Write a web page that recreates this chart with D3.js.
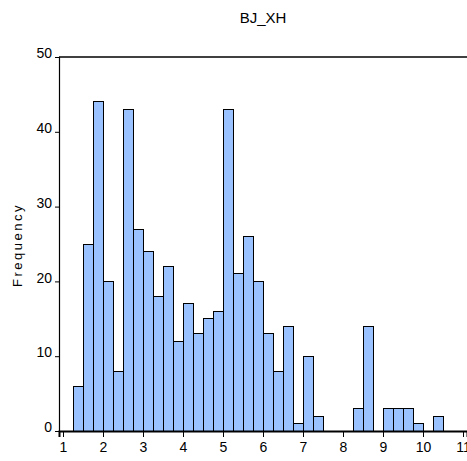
<!DOCTYPE html>
<html>
<head>
<meta charset="utf-8">
<script src="https://cdn.jsdelivr.net/npm/d3@7"></script>
<style>
  html, body { margin: 0; padding: 0; background: #fff; }
  svg { display: block; }
  text { font-family: "Liberation Sans Narrow", "Arial Narrow", "Liberation Sans", sans-serif; fill: #000; }
</style>
</head>
<body>
<svg id="chart" width="467" height="461"></svg>
<script>
// Histogram of BJ_XH, bin width 0.25 starting at 1.25
const binStart = 1.25;
const binWidth = 0.25;
const counts = [6, 25, 44, 20, 8, 43, 27, 24, 18, 22, 12, 17, 13, 15, 16, 43, 21, 26, 20, 13,
                8, 14, 1, 10, 2, 0, 0, 0, 3, 14, 0, 3, 3, 3, 1, 0, 2];
const xTicks = [1, 2, 3, 4, 5, 6, 7, 8, 9, 10, 11];
const yTicks = [0, 10, 20, 30, 40, 50];
const title = "BJ_XH";
const yLabel = "Frequency";

const bins = counts.map((c, i) => ({
  x0: binStart + i * binWidth,
  x1: binStart + (i + 1) * binWidth,
  count: c
}));

const svg = d3.select("#chart");
const W = 467;

const x = d3.scaleLinear().domain([0.9, 11.1]).range([59, 467]);
const y = d3.scaleLinear().domain([0, 50]).range([431, 57]);

// bars
svg.append("g")
  .selectAll("rect")
  .data(bins.filter(d => d.count > 0))
  .join("rect")
  .attr("x", d => x(d.x0))
  .attr("y", d => y(d.count))
  .attr("width", d => x(d.x1) - x(d.x0))
  .attr("height", d => y(0) - y(d.count))
  .attr("fill", "#99c2ff")
  .attr("stroke", "#000")
  .attr("stroke-width", 1)
  .attr("shape-rendering", "crispEdges");

// frame: top line
svg.append("line")
  .attr("x1", 59).attr("x2", W)
  .attr("y1", y(50)).attr("y2", y(50))
  .attr("stroke", "#000").attr("stroke-width", 1.5);

// y axis
const yAxis = d3.axisLeft(y).tickValues(yTicks).tickSize(4).tickPadding(3).tickFormat(d3.format("d"));
const gy = svg.append("g").attr("transform", `translate(59,0)`).call(yAxis);
gy.select(".domain").attr("stroke", "#000").attr("stroke-width", 1.2);
gy.selectAll(".tick line").attr("stroke", "#000");
gy.selectAll(".tick text").attr("font-size", 14).attr("dy", "0.05em");

// x axis
const xAxis = d3.axisBottom(x).tickValues(xTicks).tickSize(6).tickPadding(5).tickFormat(d3.format("d"));
const gx = svg.append("g").attr("transform", `translate(0,431)`).call(xAxis);
gx.select(".domain").attr("stroke", "#000").attr("stroke-width", 2);
gx.selectAll(".tick line").attr("stroke", "#000");
gx.selectAll(".tick text").attr("font-size", 14);

// title
svg.append("text")
  .attr("x", 263).attr("y", 23)
  .attr("text-anchor", "middle")
  .attr("font-size", 15)
  .text(title);

// y label
svg.append("text")
  .attr("transform", `translate(22,245) rotate(-90)`)
  .attr("text-anchor", "middle")
  .attr("font-size", 13)
  .attr("letter-spacing", "2.5px")
  .text(yLabel);
</script>
</body>
</html>
